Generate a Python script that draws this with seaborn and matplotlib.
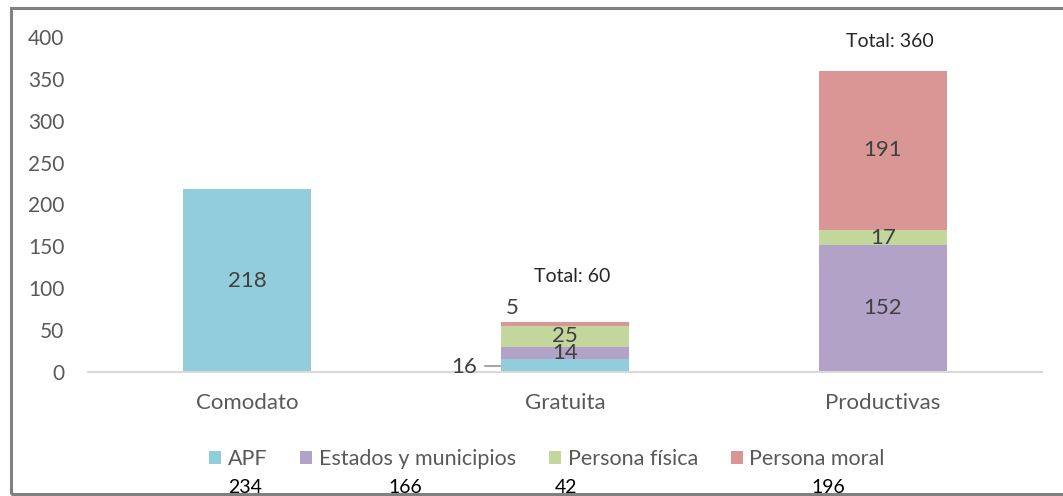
import matplotlib
matplotlib.use("Agg")
import matplotlib.pyplot as plt
from matplotlib.patches import Patch, Rectangle
import numpy as np
import pandas as pd
import seaborn as sns

# data
categories = ["Comodato", "Gratuita", "Productivas"]
series = ["APF", "Estados y municipios", "Persona física", "Persona moral"]
apf = [218, 16, 0]
estados = [0, 14, 152]
fisica = [0, 25, 17]
moral = [0, 5, 191]
colors = ["#92CDDC", "#B2A2C7", "#C3D69B", "#D99694"]

values = [apf, estados, fisica, moral]
df = pd.DataFrame({"categoria": categories})
for name, v in zip(series, values):
    df[name] = v
cum = df[series].cumsum(axis=1)
totals = df[series].sum(axis=1)
series_totals = df[series].sum(axis=0)

sns.set_theme(style="white")
plt.rcParams["font.family"] = ["Lato", "DejaVu Sans"]

fig = plt.figure(figsize=(10.63, 4.96), dpi=100)
ax = fig.add_axes([88 / 1063, 1 - 372 / 496, (1042 - 88) / 1063, (372 - 37) / 496])

# stacked bars: draw cumulative totals from top layer down
for name, col in reversed(list(zip(series, colors))):
    sns.barplot(x=df["categoria"], y=cum[name], color=col, width=0.4,
                saturation=1, ax=ax, linewidth=0, zorder=2)

ax.set_ylim(0, 400)
ax.set_xlim(-0.5, 2.5)
ax.set_yticks(range(0, 401, 50))
ax.set_xlabel("")
ax.set_ylabel("")
for s in ["top", "right", "left"]:
    ax.spines[s].set_visible(False)
ax.spines["bottom"].set_color("#D9D9D9")
ax.spines["bottom"].set_linewidth(1.5)
ax.tick_params(axis="y", length=0, pad=17, labelsize=15, labelcolor="#595959")
ax.tick_params(axis="x", length=0, pad=15, labelsize=16, labelcolor="#595959")

lab_col = "#404040"
total_offset = [0, 54, 35]
# segment labels
for i, cat in enumerate(categories):
    base = 0
    for name in series:
        v = df.loc[i, name]
        if v > 0:
            mid = base + v / 2
            if cat == "Gratuita" and name == "APF":
                ax.text(i - 0.275, mid - 2, str(v), ha="right", va="center",
                        fontsize=16, color=lab_col)
                ax.plot([i - 0.252, i - 0.204], [mid - 0.5, mid - 0.5],
                        color="#A6A6A6", lw=1.5)
            elif cat == "Gratuita" and name == "Persona moral":
                ax.text(i - 0.167, base + v + 17, str(v), ha="center", va="center",
                        fontsize=16, color=lab_col)
            else:
                ax.text(i, mid, str(v), ha="center", va="center",
                        fontsize=16, color=lab_col)
        base += v
    if totals[i] != values[0][i]:
        ax.text(i + 0.022, totals[i] + total_offset[i], f"Total: {totals[i]}",
                ha="center", va="center", fontsize=14, color="#262626")

handles = [Patch(facecolor=c, edgecolor="none") for c in colors]
fig.legend(handles, series, loc="center", bbox_to_anchor=(547 / 1063, 1 - 459 / 496),
           ncol=4, frameon=False, fontsize=15.5, labelcolor="#595959",
           handlelength=0.55, handleheight=0.55, handletextpad=0.3, columnspacing=1.55)

# totals per series under the legend
num_x = [245, 405, 566, 828]
for x, t in zip(num_x, series_totals):
    fig.text(x / 1063, 1 - 493 / 496, str(t), ha="center", va="baseline",
             fontsize=14, color="#000000")

# outer frame
fig.patches.append(Rectangle((11 / 1063, 1 - 494 / 496), 1.2, (494 - 8) / 496,
                             transform=fig.transFigure, fill=False,
                             edgecolor="#808080", linewidth=2.2, zorder=10))

fig.savefig("out.png", dpi=100)
